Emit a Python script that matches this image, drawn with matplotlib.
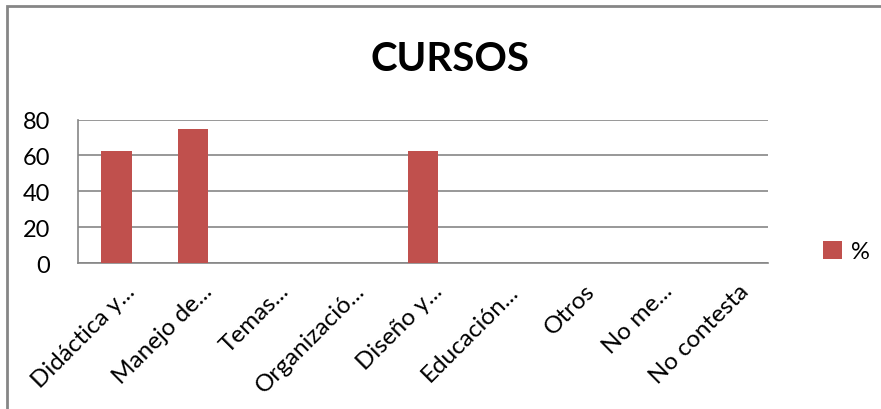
import numpy as np
import matplotlib.pyplot as plt
import matplotlib.transforms as mtransforms
from matplotlib.patches import Rectangle

plt.rcParams['font.family'] = ['Lato', 'DejaVu Sans']

# categorías y porcentajes
cursos = ['Didáctica y...', 'Manejo de...', 'Temas...', 'Organizació...',
          'Diseño y...', 'Educación...', 'Otros', 'No me...', 'No contesta']
porcentaje = [62.5, 75, 0, 0, 62.5, 0, 0, 0, 0]
yticks = [0, 20, 40, 60, 80]

fig = plt.figure(figsize=(8.81, 4.10), dpi=100)
ax = fig.add_axes([0.0885, 0.356, 0.7835, 0.350])

x = np.arange(len(cursos))
ax.bar(x, porcentaje, width=0.4, color='#C0504D', label='%', zorder=3)

ax.set_xlim(-0.5, len(cursos) - 0.5)
ax.set_ylim(0, 80)
ax.set_yticks(yticks)
ax.set_yticklabels([str(v) for v in yticks], fontsize=17)
ax.yaxis.grid(True, color='#868686', linewidth=1.2, zorder=0)
ax.tick_params(axis='y', length=0, pad=20)
ax.tick_params(axis='x', length=0, pad=12)

ax.set_xticks(x)
ax.set_xticklabels(cursos, fontsize=17.5, rotation=45, ha='right',
                   rotation_mode='anchor')
# desplazar las etiquetas un poco a la derecha
offset = mtransforms.ScaledTranslation(8 / 100, 0, fig.dpi_scale_trans)
for lbl in ax.get_xticklabels():
    lbl.set_transform(lbl.get_transform() + offset)

for s in ['top', 'right']:
    ax.spines[s].set_visible(False)
for s in ['left', 'bottom']:
    ax.spines[s].set_color('#868686')
    ax.spines[s].set_linewidth(1.2)

fig.text(0.511, 0.855, 'CURSOS', fontsize=29, fontweight='bold',
         ha='center', va='center')

leg = fig.legend(loc='center left', bbox_to_anchor=(0.91, 0.385),
                 frameon=False, fontsize=17, handlelength=0.8,
                 handleheight=0.8, handletextpad=0.4)

# marco del gráfico
fig.add_artist(Rectangle((0.008, -0.1), 1.1, 1.082, transform=fig.transFigure,
                         fill=False, edgecolor='#868686', linewidth=2))

fig.savefig('out.png', dpi=100)
